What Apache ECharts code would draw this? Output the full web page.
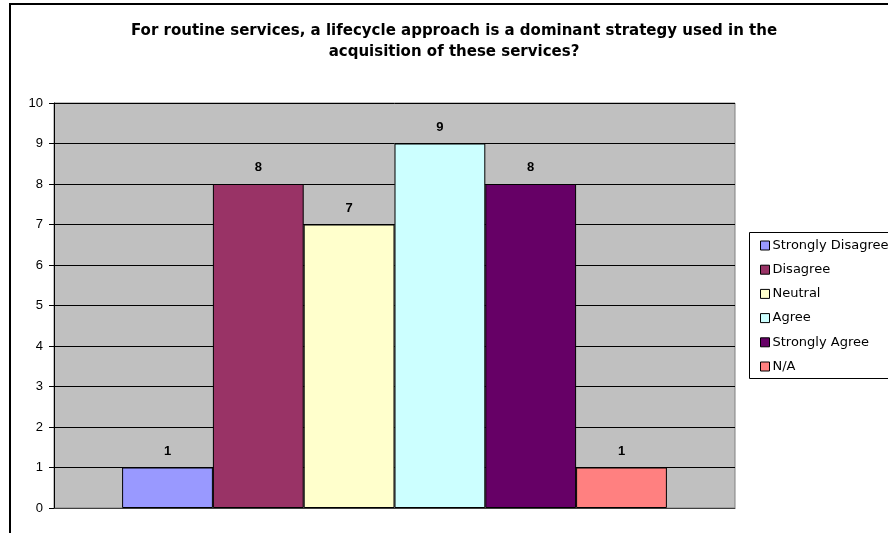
<!DOCTYPE html>
<html>
<head>
<meta charset="utf-8">
<script src="https://cdn.jsdelivr.net/npm/echarts@6/dist/echarts.min.js"></script>
<style>html,body{margin:0;padding:0;background:#fff;}#c{width:888px;height:533px;}</style>
</head>
<body>
<div id="c"></div>
<script>
var titleText = 'For routine services, a lifecycle approach is a dominant strategy used in the\nacquisition of these services?';
var categories = ['Responses'];
var seriesNames = ['Strongly Disagree', 'Disagree', 'Neutral', 'Agree', 'Strongly Agree', 'N/A'];
var seriesValues = [1, 8, 7, 9, 8, 1];
var seriesColors = ['#9999FF', '#993366', '#FFFFCC', '#CCFFFF', '#660066', '#FF8080'];
var yTicks = [0, 1, 2, 3, 4, 5, 6, 7, 8, 9, 10];

var font = 'Arial, "Liberation Sans", sans-serif';
var wideFont = '"DejaVu Sans", Arial, sans-serif';
var chart = echarts.init(document.getElementById('c'), null, {renderer: 'canvas'});

var series = seriesNames.map(function (n, i) {
  return {
    name: n,
    type: 'bar',
    data: [seriesValues[i]],
    barGap: '0%',
    barCategoryGap: '20%',
    itemStyle: {color: seriesColors[i], borderColor: '#000', borderWidth: 1},
    label: {show: true, position: 'top', distance: 10, fontFamily: font, fontWeight: 'bold', fontSize: 13, color: '#000'},
    emphasis: {disabled: true},
    animation: false
  };
});

chart.setOption({
  animation: false,
  backgroundColor: '#fff',
  title: {
    text: titleText,
    left: 449, top: 16, textAlign: 'center',
    textStyle: {fontFamily: wideFont, fontWeight: 'bold', fontSize: 15, color: '#000', lineHeight: 21}
  },
  graphic: [
    {type: 'rect', shape: {x: 10, y: 4, width: 890, height: 540}, style: {fill: 'none', stroke: '#000', lineWidth: 2}, z: -1},
    {type: 'rect', shape: {x: 749.5, y: 232.5, width: 160, height: 146}, style: {fill: '#fff', stroke: '#000', lineWidth: 1}, z: 0}
  ],
  legend: {
    orient: 'vertical', left: 755, top: 234,
    itemWidth: 9, itemHeight: 9, itemGap: 11.2,
    icon: 'rect',
    textStyle: {fontFamily: wideFont, fontSize: 13, color: '#000', padding: [0, 0, 0, -2]},
    itemStyle: {borderColor: '#000', borderWidth: 1},
    data: seriesNames,
    z: 5
  },
  grid: {left: 54, right: 153, top: 103, bottom: 25, show: true, backgroundColor: '#C0C0C0', borderColor: '#808080', borderWidth: 1},
  xAxis: {
    type: 'category', data: categories,
    axisLine: {show: true, lineStyle: {color: '#404040', width: 1}},
    axisTick: {show: false}, axisLabel: {show: false}
  },
  yAxis: {
    type: 'value', min: 0, max: 10, interval: 1,
    axisLine: {show: true, lineStyle: {color: '#000', width: 1}},
    axisTick: {show: true, length: 5, lineStyle: {color: '#000'}},
    axisLabel: {fontFamily: font, fontSize: 13, color: '#000', margin: 11,
      formatter: function (v) { return yTicks.indexOf(v) >= 0 ? String(v) : ''; }},
    splitLine: {show: true, lineStyle: {color: '#000', width: 1}}
  },
  series: series
});
</script>
</body>
</html>
